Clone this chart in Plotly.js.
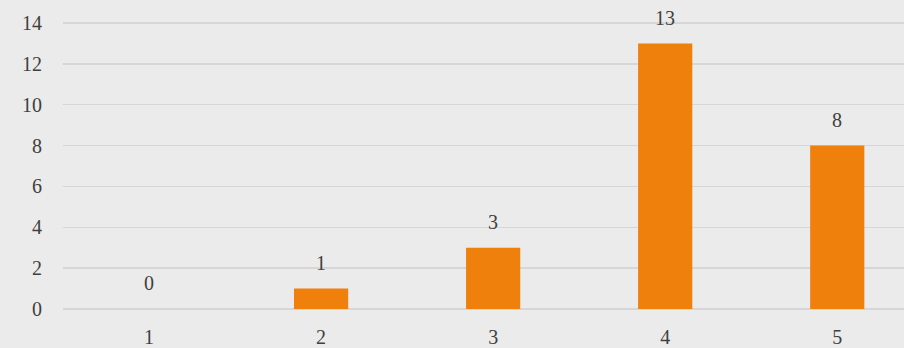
<!DOCTYPE html>
<html>
<head>
<meta charset="utf-8">
<script src="https://cdn.plot.ly/plotly-3.0.1.min.js"></script>
<style>
html,body{margin:0;padding:0;background:#ebebeb;}
#chart{width:904px;height:348px;}
</style>
</head>
<body>
<div id="chart"></div>
<script>
const categories = ['1', '2', '3', '4', '5'];
const values = [0, 1, 3, 13, 8];
const yTicks = [0, 2, 4, 6, 8, 10, 12, 14];

const fontFamily = 'Liberation Serif, DejaVu Serif, serif';
const textColor = '#404040';

const trace = {
  type: 'bar',
  x: categories,
  y: values,
  width: 0.315,
  marker: {color: '#f0800c', line: {width: 0}},
  hoverinfo: 'none'
};

const annotations = categories.map((c, i) => ({
  x: i,
  y: values[i],
  xref: 'x',
  yref: 'y',
  text: String(values[i]),
  showarrow: false,
  yanchor: 'middle',
  yshift: 26,
  font: {family: fontFamily, size: 20, color: textColor}
}));

const layout = {
  width: 904,
  height: 348,
  margin: {l: 63, r: 0, t: 19, b: 35, pad: 0},
  paper_bgcolor: '#ebebeb',
  plot_bgcolor: 'rgba(0,0,0,0)',
  showlegend: false,
  font: {family: fontFamily, size: 20, color: textColor},
  xaxis: {
    type: 'category',
    range: [-0.5, 4.388],
    showgrid: false,
    zeroline: false,
    showline: false,
    ticks: '',
    ticklabelstandoff: 10,
    tickfont: {family: fontFamily, size: 20, color: textColor},
    fixedrange: true
  },
  yaxis: {
    range: [-0.2, 14.2],
    tickvals: yTicks,
    ticktext: yTicks.map(String),
    showgrid: true,
    gridcolor: '#d6d6d6',
    gridwidth: 1.2,
    zeroline: false,
    showline: false,
    ticks: '',
    ticklabelstandoff: 20,
    tickfont: {family: fontFamily, size: 20, color: textColor},
    fixedrange: true
  },
  annotations: annotations
};

Plotly.newPlot('chart', [trace], layout, {displayModeBar: false, staticPlot: true});
</script>
</body>
</html>
